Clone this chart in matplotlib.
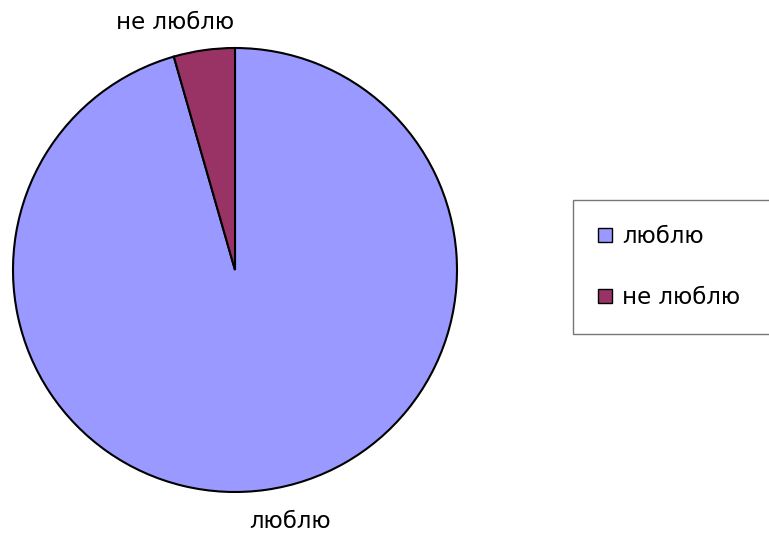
import matplotlib
matplotlib.use("Agg")
import matplotlib.pyplot as plt
from matplotlib.patches import Patch

plt.rcParams["font.family"] = "DejaVu Sans"

# Данные
categories = ["люблю", "не люблю"]
values = [43, 2]
colors = ["#9999FF", "#993366"]

W, H = 769, 533
fig = plt.figure(figsize=(W / 100, H / 100), dpi=100)

# круг: центр (235, 270), радиус 222 px
cx, cy, r = 235, 270, 222
ax = fig.add_axes([(cx - r) / W, 1 - (cy + r) / H, 2 * r / W, 2 * r / H])

wedges, texts = ax.pie(values, labels=categories, colors=colors,
                       startangle=90, counterclock=False,
                       wedgeprops=dict(edgecolor="black", linewidth=1.5),
                       textprops=dict(fontsize=16.5, color="black"))
ax.set_xlim(-1, 1)
ax.set_ylim(-1, 1)
ax.set_aspect("auto")

# подписи снаружи круга
texts[0].set_position((0.25, -1.135))
texts[1].set_position((-0.27, 1.115))
for t in texts:
    t.set_ha("center")
    t.set_va("center")

# Легенда (правый край уходит за границу рисунка)
handles = [Patch(facecolor=c, edgecolor="black", linewidth=1.0) for c in colors]
leg = fig.legend(handles, categories, loc="upper left", mode="expand",
                 bbox_to_anchor=(573 / W, 1 - 200 / H, 205 / W, 0),
                 bbox_transform=fig.transFigure,
                 fontsize=16.5, frameon=True, fancybox=False, borderpad=1.1,
                 labelspacing=1.65, handlelength=0.6, handleheight=0.6,
                 handletextpad=0.45, borderaxespad=0)
leg.get_frame().set_edgecolor("#555555")
leg.get_frame().set_linewidth(1.0)

plt.savefig("out.png", dpi=100)
